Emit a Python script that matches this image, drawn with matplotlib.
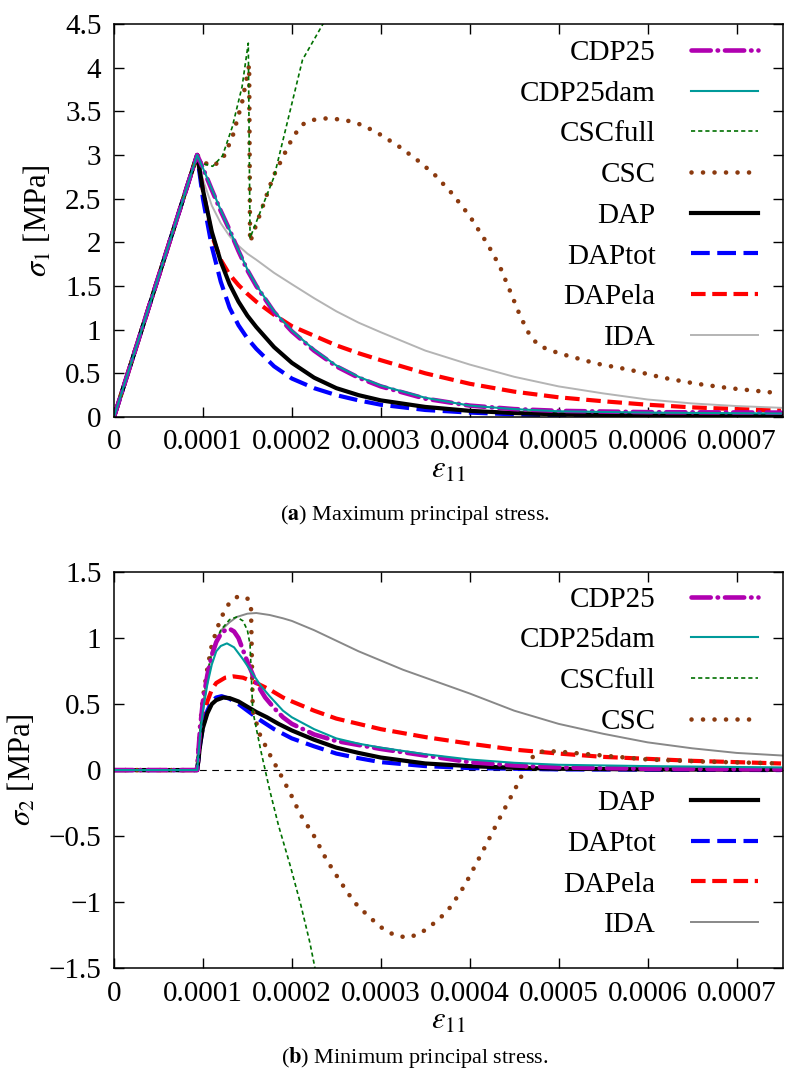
import matplotlib
matplotlib.use('Agg')
import numpy as np
import matplotlib.pyplot as plt

plt.rcParams['font.family'] = ['Liberation Serif', 'DejaVu Serif']
plt.rcParams['mathtext.fontset'] = 'stix'

# strain values are given in units of 1e-4
# ---- (a) maximum principal stress ----
cdp25_e = [0, 0.935, 1.0, 1.1, 1.2, 1.3, 1.4, 1.5, 1.6, 1.8, 2.0, 2.25, 2.5, 2.75, 3.0, 3.5,
           4.0, 4.5, 5.0, 6.0, 7.5]
cdp25_s = [0, 3.0, 2.85, 2.6, 2.36, 2.14, 1.9, 1.68, 1.5, 1.2, 0.98, 0.76, 0.58, 0.45, 0.35, 0.21,
           0.13, 0.09, 0.07, 0.055, 0.05]
cdp25dam_e = [0, 0.935, 1.0, 1.1, 1.2, 1.3, 1.4, 1.5, 1.6, 1.8, 2.0, 2.25, 2.5, 2.75, 3.0, 3.5,
              4.0, 4.5, 5.0, 6.0, 7.5]
cdp25dam_s = [0, 3.0, 2.85, 2.61, 2.37, 2.14, 1.91, 1.69, 1.51, 1.21, 0.99, 0.77, 0.59, 0.46, 0.36, 0.22,
              0.13, 0.09, 0.065, 0.05, 0.04]
cscfull_e = [0, 0.935, 1.0, 1.11, 1.22, 1.33, 1.44, 1.51, 1.53, 1.8, 2.12, 2.35, 2.45]
cscfull_s = [0, 3.0, 2.9, 2.87, 2.99, 3.32, 3.78, 4.28, 2.05, 2.75, 4.09, 4.5, 4.7]
csc_e = [0, 0.935, 1.0, 1.11, 1.22, 1.33, 1.44, 1.52, 1.53, 1.62, 1.79, 1.94, 2.0, 2.09, 2.15,
         2.23, 2.4, 2.6, 2.8, 3.0, 3.2, 3.4, 3.6, 3.8, 4.0, 4.2, 4.34, 4.45, 4.55, 4.64, 4.7,
         4.79, 5.0, 5.43, 5.8, 6.17, 6.55, 6.92, 7.5]
csc_s = [0, 3.0, 2.92, 2.87, 2.95, 3.2, 3.6, 4.03, 2.0, 2.26, 2.75, 3.06, 3.18, 3.32, 3.37,
         3.40, 3.42, 3.40, 3.34, 3.23, 3.1, 2.95, 2.78, 2.56, 2.3, 1.98, 1.72, 1.45, 1.2, 1.0, 0.9,
         0.81, 0.73, 0.61, 0.54, 0.45, 0.38, 0.33, 0.27]
dap_e = [0, 0.935, 1.0, 1.1, 1.2, 1.3, 1.4, 1.5, 1.6, 1.8, 2.0, 2.25, 2.5, 2.75, 3.0, 3.5,
         4.0, 4.5, 5.0, 6.0, 7.5]
dap_s = [0, 3.0, 2.6, 2.12, 1.78, 1.52, 1.32, 1.16, 1.03, 0.8, 0.62, 0.45, 0.33, 0.25, 0.19, 0.115,
         0.07, 0.045, 0.03, 0.018, 0.01]
daptot_e = [0, 0.935, 1.0, 1.1, 1.2, 1.3, 1.4, 1.5, 1.6, 1.8, 2.0, 2.25, 2.5, 2.75, 3.0, 3.5,
            4.0, 4.5, 5.0, 6.0, 7.5]
daptot_s = [0, 3.0, 2.5, 1.95, 1.55, 1.25, 1.05, 0.9, 0.78, 0.58, 0.44, 0.33, 0.25, 0.19, 0.14, 0.08,
            0.05, 0.03, 0.02, 0.012, 0.008]
dapela_e = [0, 0.935, 1.0, 1.1, 1.2, 1.3, 1.4, 1.5, 1.6, 1.8, 2.0, 2.25, 2.5, 2.75, 3.0, 3.5,
            4.0, 4.5, 5.0, 5.5, 6.0, 6.5, 7.0, 7.5]
dapela_s = [0, 3.0, 2.6, 2.08, 1.8, 1.63, 1.51, 1.41, 1.32, 1.17, 1.04, 0.93, 0.82, 0.73, 0.65, 0.5,
            0.38, 0.29, 0.225, 0.18, 0.14, 0.11, 0.09, 0.07]
ida_e = [0, 0.935, 1.0, 1.1, 1.2, 1.3, 1.4, 1.5, 1.6, 1.8, 2.0, 2.25, 2.5, 2.75, 3.0, 3.5,
         4.0, 4.5, 5.0, 5.5, 6.0, 6.5, 7.0, 7.5]
ida_s = [0, 3.0, 2.72, 2.42, 2.22, 2.07, 1.96, 1.87, 1.8, 1.65, 1.52, 1.36, 1.21, 1.08, 0.97, 0.76,
         0.6, 0.46, 0.35, 0.27, 0.2, 0.155, 0.125, 0.105]

# ---- (b) minimum principal stress ----
b_cdp25_e = [0, 0.935, 0.95, 0.97, 1.0, 1.05, 1.1, 1.15, 1.2, 1.25, 1.3, 1.35, 1.4, 1.5, 1.6,
             1.7, 1.8, 1.9, 2.0, 2.25, 2.5, 2.75, 3.0, 3.5, 4.0, 4.5, 5.0, 6.0, 7.5]
b_cdp25_s = [0, 0, 0.15, 0.33, 0.52, 0.72, 0.87, 0.97, 1.03, 1.06, 1.07, 1.05, 1.0, 0.82, 0.66,
             0.55, 0.47, 0.40, 0.35, 0.27, 0.22, 0.19, 0.16, 0.11, 0.06, 0.035, 0.02, 0.01, 0.005]
b_cdp25dam_e = [0, 0.935, 0.95, 0.97, 1.0, 1.05, 1.1, 1.15, 1.2, 1.27, 1.35, 1.45, 1.55, 1.65,
                1.75, 1.9, 2.0, 2.25, 2.5, 2.75, 3.0, 3.5, 4.0, 4.5, 5.0, 6.0, 7.5]
b_cdp25dam_s = [0, 0, 0.12, 0.28, 0.45, 0.65, 0.8, 0.9, 0.94, 0.96, 0.93, 0.84, 0.74, 0.64,
                0.56, 0.45, 0.4, 0.31, 0.24, 0.2, 0.17, 0.12, 0.08, 0.055, 0.04, 0.03, 0.02]
b_cscfull_e = [0, 0.935, 0.95, 0.97, 1.0, 1.05, 1.1, 1.2, 1.3, 1.38, 1.45, 1.5, 1.53, 1.56,
               1.65, 1.75, 1.85, 1.98, 2.1, 2.2, 2.26, 2.35]
b_cscfull_s = [0, 0, 0.15, 0.33, 0.52, 0.73, 0.9, 1.06, 1.14, 1.16, 1.13, 1.06, 0.95, 0.45,
               0.15, -0.15, -0.42, -0.72, -1.02, -1.3, -1.5, -1.8]
b_csc_e = [0, 0.935, 0.95, 0.97, 1.0, 1.05, 1.1, 1.2, 1.3, 1.38, 1.44, 1.5, 1.54, 1.56, 1.64,
           1.75, 1.87, 2.0, 2.09, 2.25, 2.39, 2.55, 2.7, 2.85, 3.0, 3.15, 3.3, 3.44, 3.58, 3.7,
           3.78, 3.9, 3.97, 4.15, 4.34, 4.52, 4.6, 4.67, 4.75, 4.85, 5.0, 5.5, 6.0, 6.6, 7.5]
b_csc_s = [0, 0, 0.16, 0.35, 0.55, 0.77, 0.95, 1.15, 1.27, 1.31, 1.32, 1.3, 1.26, 0.45, 0.27,
           0.12, -0.03, -0.2, -0.33, -0.5, -0.68, -0.85, -1.0, -1.1, -1.19, -1.25, -1.27, -1.24,
           -1.17, -1.1, -1.04, -0.92, -0.84, -0.61, -0.36, -0.13, -0.02, 0.07, 0.13, 0.145, 0.14,
           0.11, 0.08, 0.065, 0.05]
b_dap_e = [0, 0.935, 0.95, 0.97, 1.0, 1.05, 1.1, 1.15, 1.23, 1.3, 1.4, 1.5, 1.6, 1.72, 1.85,
           2.0, 2.25, 2.5, 2.75, 3.0, 3.5, 4.0, 4.5, 5.0, 6.0, 7.5]
b_dap_s = [0, 0, 0.08, 0.2, 0.32, 0.43, 0.5, 0.53, 0.55, 0.545, 0.52, 0.48, 0.44, 0.40, 0.35,
           0.3, 0.23, 0.17, 0.13, 0.095, 0.05, 0.03, 0.017, 0.01, 0.005, 0.002]
b_daptot_e = [0, 0.935, 0.95, 0.97, 1.0, 1.05, 1.1, 1.15, 1.21, 1.3, 1.4, 1.5, 1.64, 1.8, 2.0,
              2.25, 2.5, 2.75, 3.0, 3.5, 4.0, 5.0, 7.5]
b_daptot_s = [0, 0, 0.08, 0.2, 0.33, 0.45, 0.52, 0.55, 0.56, 0.54, 0.5, 0.45, 0.38, 0.31, 0.24,
              0.18, 0.125, 0.09, 0.06, 0.03, 0.015, 0.005, 0.0]
b_dapela_e = [0, 0.935, 0.95, 0.97, 1.0, 1.05, 1.1, 1.15, 1.25, 1.34, 1.45, 1.6, 1.75, 1.9, 2.0,
              2.25, 2.5, 2.75, 3.0, 3.5, 4.0, 4.5, 5.0, 5.5, 6.0, 6.5, 7.0, 7.5]
b_dapela_s = [0, 0, 0.08, 0.22, 0.38, 0.52, 0.61, 0.66, 0.70, 0.71, 0.70, 0.66, 0.61, 0.55, 0.52,
              0.45, 0.39, 0.35, 0.31, 0.25, 0.2, 0.155, 0.125, 0.1, 0.085, 0.07, 0.06, 0.05]
b_ida_e = [0, 0.935, 0.95, 0.97, 1.0, 1.05, 1.1, 1.16, 1.22, 1.3, 1.38, 1.5, 1.6, 1.75, 1.9,
           2.0, 2.25, 2.5, 2.75, 3.0, 3.25, 3.5, 4.0, 4.5, 5.0, 5.5, 6.0, 6.5, 7.0, 7.52]
b_ida_s = [0, 0, 0.12, 0.3, 0.5, 0.72, 0.88, 1.0, 1.07, 1.12, 1.16, 1.185, 1.19, 1.175, 1.15,
           1.13, 1.06, 0.98, 0.9, 0.83, 0.76, 0.7, 0.58, 0.45, 0.35, 0.275, 0.21, 0.165, 0.13, 0.11]

xticks = [0, 1e-4, 2e-4, 3e-4, 4e-4, 5e-4, 6e-4, 7e-4]
xticklabels = ['0', '0.0001', '0.0002', '0.0003', '0.0004', '0.0005', '0.0006', '0.0007']
yticks_a = [0, 0.5, 1, 1.5, 2, 2.5, 3, 3.5, 4, 4.5]
yticklabels_a = ['0', '0.5', '1', '1.5', '2', '2.5', '3', '3.5', '4', '4.5']
yticks_b = [-1.5, -1, -0.5, 0, 0.5, 1, 1.5]
yticklabels_b = ['\u22121.5', '\u22121', '\u22120.5', '0', '0.5', '1', '1.5']

styles = {
    'CDP25':    dict(color='#b000b0', lw=3.3, ls=(0, (4.2, 1.5, 0.1, 1.5)), dash_capstyle='round'),
    'CDP25dam': dict(color='#009a9a', lw=1.5, ls='-'),
    'CSCfull':  dict(color='#007000', lw=1.2, ls=(0, (2.5, 1.8))),
    'CSC':      dict(color='#8b3a0f', lw=3.3, ls=(0, (0.01, 2.5)), dash_capstyle='round'),
    'DAP':      dict(color='black', lw=3.0, ls='-'),
    'DAPtot':   dict(color='#0000ff', lw=3.0, ls=(0, (4.5, 1.8))),
    'DAPela':   dict(color='#ff0000', lw=3.0, ls=(0, (3.5, 1.6))),
}

FS = 21


def style_axes(ax, yt, ytl, ylo, yhi):
    ax.set_xlim(0, 7.52e-4)
    ax.set_ylim(ylo, yhi)
    ax.set_xticks(xticks)
    ax.set_xticklabels(xticklabels)
    ax.set_yticks(yt)
    ax.set_yticklabels(ytl)
    ax.tick_params(direction='in', length=7, width=1, labelsize=FS, top=True, right=True, pad=9)
    for sp in ax.spines.values():
        sp.set_linewidth(1.1)
    ax.set_xlabel(r'$\epsilon_{11}$', fontsize=FS + 1, labelpad=0)


def to_strain(vals):
    return np.array(vals) * 1e-4


fig = plt.figure(figsize=(7.85, 10.78), dpi=100)
ax1 = fig.add_axes([0.1452, 0.6132, 0.852, 0.3646])
ax2 = fig.add_axes([0.1452, 0.1020, 0.852, 0.3673])

# panel (a)
la = []
la += ax1.plot(to_strain(ida_e), ida_s, color='#b4b4b4', lw=1.4, label='IDA')
la += ax1.plot(to_strain(dapela_e), dapela_s, label='DAPela', **styles['DAPela'])
la += ax1.plot(to_strain(daptot_e), daptot_s, label='DAPtot', **styles['DAPtot'])
la += ax1.plot(to_strain(dap_e), dap_s, label='DAP', **styles['DAP'])
la += ax1.plot(to_strain(csc_e), csc_s, label='CSC', **styles['CSC'])
la += ax1.plot(to_strain(cscfull_e), cscfull_s, label='CSCfull', **styles['CSCfull'])
la += ax1.plot(to_strain(cdp25_e), cdp25_s, label='CDP25', **styles['CDP25'])
la += ax1.plot(to_strain(cdp25dam_e), cdp25dam_s, label='CDP25dam', **styles['CDP25dam'])
style_axes(ax1, yticks_a, yticklabels_a, 0, 4.5)
ax1.set_ylabel(r'$\sigma_1$ [MPa]', fontsize=FS + 1, labelpad=8)

order = ['CDP25', 'CDP25dam', 'CSCfull', 'CSC', 'DAP', 'DAPtot', 'DAPela', 'IDA']
hmap = {h.get_label(): h for h in la}
leg_kw = dict(frameon=False, markerfirst=False, fontsize=FS, handlelength=2.3,
              handletextpad=1.2, labelspacing=0.49, borderpad=0, borderaxespad=0,
              loc='upper right')
ax1.legend([hmap[k] for k in order], order, bbox_to_anchor=(0.9626, 0.96), **leg_kw)

# panel (b)
ax2.axhline(0, color='black', lw=0.8, ls=(0, (6, 5)), zorder=1)
lb = []
lb += ax2.plot(to_strain(b_ida_e), b_ida_s, color='#888888', lw=1.4, label='IDA')
lb += ax2.plot(to_strain(b_dapela_e), b_dapela_s, label='DAPela', **styles['DAPela'])
lb += ax2.plot(to_strain(b_daptot_e), b_daptot_s, label='DAPtot', **styles['DAPtot'])
lb += ax2.plot(to_strain(b_dap_e), b_dap_s, label='DAP', **styles['DAP'])
lb += ax2.plot(to_strain(b_csc_e), b_csc_s, label='CSC', **styles['CSC'])
lb += ax2.plot(to_strain(b_cscfull_e), b_cscfull_s, label='CSCfull', **styles['CSCfull'])
lb += ax2.plot(to_strain(b_cdp25_e), b_cdp25_s, label='CDP25', **styles['CDP25'])
lb += ax2.plot(to_strain(b_cdp25dam_e), b_cdp25dam_s, label='CDP25dam', **styles['CDP25dam'])
style_axes(ax2, yticks_b, yticklabels_b, -1.5, 1.5)
ax2.set_ylabel(r'$\sigma_2$ [MPa]', fontsize=FS + 1, labelpad=8)

hmap = {h.get_label(): h for h in lb}
g1 = order[:4]
g2 = order[4:]
leg1 = ax2.legend([hmap[k] for k in g1], g1, bbox_to_anchor=(0.9626, 0.964), **leg_kw)
ax2.add_artist(leg1)
ax2.legend([hmap[k] for k in g2], g2, bbox_to_anchor=(0.9626, 0.45), **leg_kw)

fig.text(0.529, 0.522, r'($\mathbf{a}$) Maximum principal stress.', ha='center', va='center', fontsize=16)
fig.text(0.529, 0.019, r'($\mathbf{b}$) Minimum principal stress.', ha='center', va='center', fontsize=16)

fig.savefig('out.png', dpi=100)
